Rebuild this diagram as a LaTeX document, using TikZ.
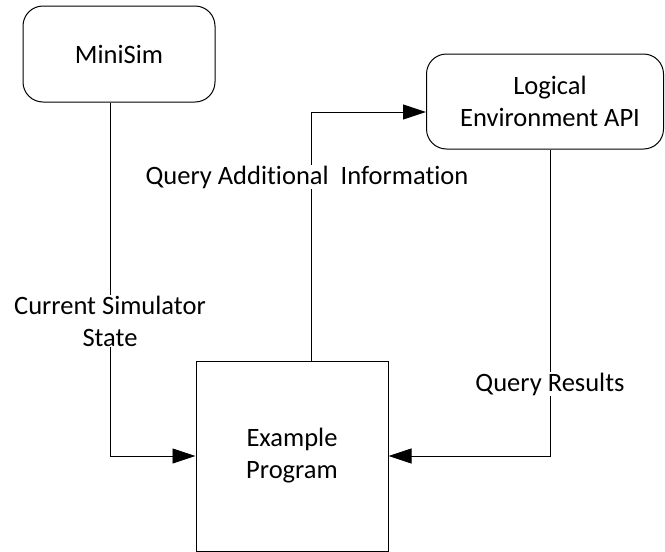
\documentclass[tikz,border=0pt]{standalone}
\usepackage{fontspec}
\setmainfont{Carlito}[Ligatures=NoCommon]
\usetikzlibrary{arrows.meta}
\begin{document}
\begin{tikzpicture}[x=1pt,y=-1pt,
  every node/.style={font=\fontsize{26.5}{32}\selectfont},
  rbox/.style={draw, line width=1pt, rounded corners=20pt, inner sep=0pt, align=center},
  sbox/.style={draw, line width=1pt, inner sep=0pt, align=center},
  conn/.style={draw, line width=0.9pt, -{Triangle[length=23pt,width=15pt]}},
  lbl/.style={fill=white, inner sep=1pt, align=center}]
\useasboundingbox (0,0) rectangle (665,552);
\node[rbox, minimum width=192pt, minimum height=96pt] (minisim) at (119,54) {MiniSim};
\node[rbox, minimum width=237pt, minimum height=95pt] (logical) at (545,101.5) {\hspace*{10pt}Logical\\\hspace*{10pt}Environment API};
\node[sbox, minimum width=192pt, minimum height=190pt] (example) at (292,456) {Example\\Program};
\draw[conn] ([xshift=-9pt]minisim.south) |- (example.west);
\draw[conn] ([xshift=19pt]example.north) |- ([yshift=-10.5pt]logical.west);
\draw[conn] ([xshift=5pt]logical.south) |- (example.east);
\node[lbl] (lcur) at (110,321) {Current Simulator\\State};
\node[lbl] (lqai) at (307,177) {Query Additional\ \ Information};
\node[lbl] (lqr) at (550,384) {Query Results};
\end{tikzpicture}
\end{document}
